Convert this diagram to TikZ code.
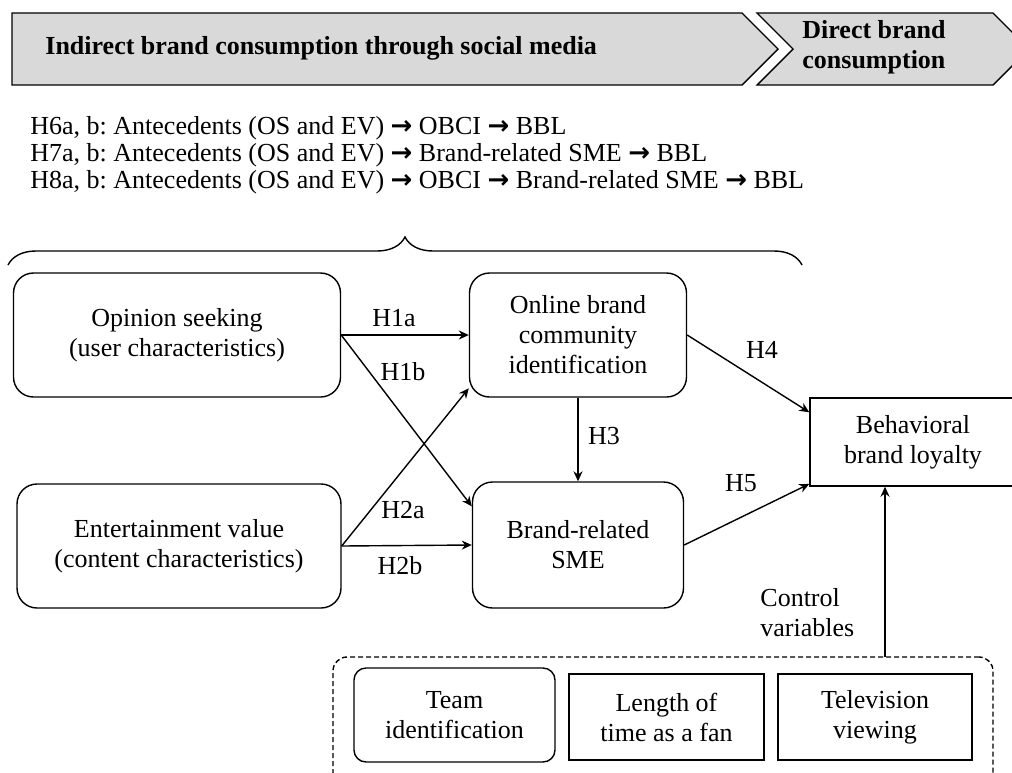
\documentclass[tikz,border=0pt]{standalone}
\usepackage{fontspec}
\setmainfont{Liberation Serif}
\newfontfamily\arrowfont{DejaVu Sans}
\usetikzlibrary{arrows.meta, decorations.pathreplacing}
\frenchspacing
\newcommand{\figfont}{\fontsize{13}{15}\selectfont}
\newcommand{\thento}{{\arrowfont\bfseries\char"2192}}

\begin{document}
\begin{tikzpicture}[x=0.5pt, y=-0.5pt,
            every node/.style = {font=\figfont, align=center},
            box/.style = {draw, line width=0.7pt, rounded corners=10pt, inner sep=0pt},
            sqbox/.style = {draw, line width=0.7pt, inner sep=0pt},
            lbl/.style = {inner sep=0pt},
            arr/.style = {-{Stealth[length=5pt, width=4.5pt]}, line width=0.7pt},
            banner/.style = {draw, line width=0.7pt, fill=gray!30}]
            \useasboundingbox (0,0) rectangle (1012,772);
            % stages
            \draw[banner] (12,13) -- (742,13) -- (778,49) -- (742,85) -- (12,85) -- cycle;
            \draw[banner] (757,13) -- (993,13) -- (1029,49) -- (993,85) -- (757,85) -- (793,49) -- cycle;
            \node[lbl, anchor=west, font=\figfont\bfseries] (indirect) at (45,48) {Indirect brand consumption through social media};
            \node[lbl, anchor=west, align=left, font=\figfont\bfseries] (direct) at (802,47) {Direct brand\\consumption};
            % mediation hypotheses
            \node[lbl, anchor=west] (h6) at (30,128) {H6a, b: Antecedents (OS and EV) \thento{} OBCI \thento{} BBL};
            \node[lbl, anchor=west] (h7) at (30,155) {H7a, b: Antecedents (OS and EV) \thento{} Brand-related SME \thento{} BBL};
            \node[lbl, anchor=west] (h8) at (30,182) {H8a, b: Antecedents (OS and EV) \thento{} OBCI \thento{} Brand-related SME \thento{} BBL};
            \draw[line width=0.7pt, decorate, decoration={brace, amplitude=14pt}] (8,265) -- (802,265);
            % model
            \node[box, minimum width=163.5pt, minimum height=62pt] (os) at (177,335) {Opinion seeking\\(user characteristics)};
            \node[box, minimum width=162pt, minimum height=62pt] (ev) at (179,546) {Entertainment value\\(content characteristics)};
            \node[box, minimum width=108.5pt, minimum height=62pt] (obci) at (578,335) {Online brand\\community\\identification};
            \node[box, minimum width=105.5pt, minimum height=63pt] (sme) at (578,545) {Brand-related\\SME};
            \node[sqbox, minimum width=103pt, minimum height=44pt] (bbl) at (913,442) {Behavioral\\brand loyalty};
            % controls
            \node[draw, line width=0.7pt, dash pattern=on 2.5pt off 1.5pt, rounded corners=7pt, minimum width=330pt, minimum height=65pt] (ctrl) at (663,722) {};
            \node[box, rounded corners=6pt, minimum width=100.5pt, minimum height=47pt] (team) at (454.5,715) {Team\\identification};
            \node[sqbox, minimum width=97.5pt, minimum height=43pt] (len) at (666.5,717) {Length of\\time as a fan};
            \node[sqbox, minimum width=97pt, minimum height=43pt] (tv) at (875,717) {Television\\viewing};
            \node[lbl, anchor=west, align=left] (ctrllbl) at (760,613) {Control\\variables};
            \coordinate (cv) at (885,657);
            % paths
            \draw[arr] (os.east) -- (obci.west);
            \draw[arr] (os.east) -- (sme.160);
            \draw[arr] (ev.east) -- (obci.206);
            \draw[arr] (ev.east) -- (sme.west);
            \draw[arr] (obci) -- (sme);
            \draw[arr] (obci.east) -- (bbl.164);
            \draw[arr] (sme.east) -- (bbl.202);
            \draw[arr] (cv) -- (cv |- bbl.south);
            \node[lbl] (l1a) at (394,318) {H1a};
            \node[lbl] (l1b) at (403,372) {H1b};
            \node[lbl] (l2a) at (403,510) {H2a};
            \node[lbl] (l2b) at (400,566) {H2b};
            \node[lbl] (l3) at (604,436) {H3};
            \node[lbl] (l4) at (762,350) {H4};
            \node[lbl] (l5) at (741,483) {H5};
\end{tikzpicture}
\end{document}
